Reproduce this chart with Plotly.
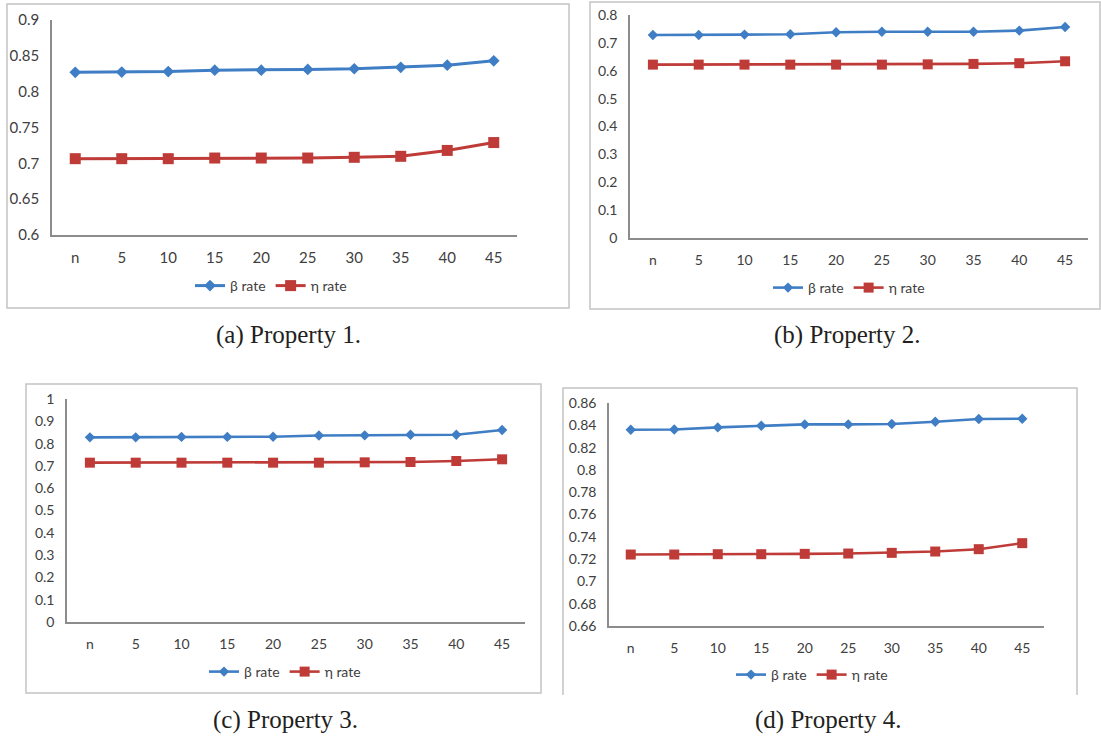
import plotly.graph_objects as go

W, H = 1101, 740

categories = ["n", "5", "10", "15", "20", "25", "30", "35", "40", "45"]

beta_p1 = [0.827, 0.8274, 0.828, 0.830, 0.830, 0.831, 0.832, 0.834, 0.837, 0.843]
eta_p1 = [0.7065, 0.7065, 0.7065, 0.7074, 0.7074, 0.7074, 0.7084, 0.7098, 0.718, 0.729]

beta_p2 = [0.728, 0.728, 0.7296, 0.731, 0.738, 0.740, 0.740, 0.740, 0.744, 0.757]
eta_p2 = [0.622, 0.622, 0.622, 0.622, 0.622, 0.622, 0.623, 0.6245, 0.627, 0.634]

beta_p3 = [0.828, 0.828, 0.830, 0.830, 0.831, 0.836, 0.837, 0.840, 0.840, 0.861]
eta_p3 = [0.7145, 0.7145, 0.7145, 0.7145, 0.7145, 0.7145, 0.716, 0.7175, 0.722, 0.7295]

beta_p4 = [0.836, 0.8363, 0.8381, 0.8396, 0.8408, 0.8408, 0.8411, 0.8432, 0.8456, 0.8459]
eta_p4 = [0.7241, 0.7241, 0.7244, 0.7244, 0.7247, 0.725, 0.7256, 0.7268, 0.7289, 0.7343]

captions = ["(a) Property 1.", "(b) Property 2.", "(c) Property 3.", "(d) Property 4."]
y_ranges = [[0.6, 0.9], [0, 0.8], [0, 1.0], [0.66, 0.86]]
y_dticks = [0.05, 0.1, 0.1, 0.02]

BLUE = "#3f7dc4"
RED = "#bf3b38"
AXIS = "#8c8c8c"
BORDER = "#c4c4c4"
TXT = "#404040"


def px(x):
    return x / W


def py(y):
    return 1 - y / H


# pixel layout: plot area (x0, x1, ytop, ybottom)
areas = [(52, 517, 20, 235), (630, 1088, 15, 238), (67, 525, 399, 622), (609, 1044, 403, 626)]
legend_pos = [(271, 286), (849, 288), (285, 672), (812, 675)]
caption_pos = [(288, 335), (847, 335), (285, 720), (828, 720)]
tick_sizes = [15, 14, 14, 14]
line_w = [3, 2.6, 2.6, 2.6]
diamond_sz = [9, 8, 8, 8]
square_sz = [11, 10, 10, 10]

series = [(beta_p1, eta_p1), (beta_p2, eta_p2), (beta_p3, eta_p3), (beta_p4, eta_p4)]

fig = go.Figure()
layout = dict(
    width=W, height=H,
    margin=dict(l=0, r=0, t=0, b=0, pad=0, autoexpand=False),
    paper_bgcolor="white", plot_bgcolor="white",
    font=dict(family="Lato, Carlito, sans-serif", color=TXT),
    shapes=[], annotations=[],
)

for i, ((b, e), (x0, x1, yt, yb)) in enumerate(zip(series, areas)):
    k = "" if i == 0 else str(i + 1)
    xa, ya = "x" + k, "y" + k
    lg = "legend" + k
    fig.add_trace(go.Scatter(
        x=categories, y=b, name="β rate", mode="lines+markers",
        line=dict(color=BLUE, width=line_w[i]),
        marker=dict(symbol="diamond", size=diamond_sz[i], color=BLUE),
        xaxis=xa, yaxis=ya, legend=lg))
    fig.add_trace(go.Scatter(
        x=categories, y=e, name="η rate", mode="lines+markers",
        line=dict(color=RED, width=line_w[i]),
        marker=dict(symbol="square", size=square_sz[i], color=RED),
        xaxis=xa, yaxis=ya, legend=lg))
    layout["xaxis" + k] = dict(
        domain=[px(x0), px(x1)], anchor=ya, type="category",
        range=[-0.5, 9.5], showgrid=False, zeroline=False, automargin=False,
        showline=True, linecolor=AXIS, linewidth=1.5, ticks="",
        tickfont=dict(size=tick_sizes[i], color=TXT), ticklabelstandoff=8,
        fixedrange=True)
    layout["yaxis" + k] = dict(
        domain=[py(yb), py(yt)], anchor=xa, range=y_ranges[i],
        dtick=y_dticks[i], tick0=0, showgrid=False, zeroline=False, automargin=False,
        showline=True, linecolor=AXIS, linewidth=1.5, ticks="",
        tickfont=dict(size=tick_sizes[i], color=TXT), ticklabelstandoff=8,
        fixedrange=True)
    lx, ly = legend_pos[i]
    layout[lg] = dict(
        orientation="h", x=px(lx), y=py(ly), xanchor="center", yanchor="middle",
        font=dict(size=14, color=TXT), bgcolor="rgba(0,0,0,0)",
        itemwidth=30, tracegroupgap=0)
    cx, cy = caption_pos[i]
    layout["annotations"].append(dict(
        text=captions[i], x=px(cx), y=py(cy), xref="paper", yref="paper",
        showarrow=False, xanchor="center", yanchor="middle",
        font=dict(family="Liberation Serif, Times New Roman, serif", size=25, color="#231f20")))

# panel borders (pixel boxes)
boxes = [(7, 569, 4, 308), (590, 1100, 2, 309), (26, 541, 384, 693)]
for (bx0, bx1, by0, by1) in boxes:
    layout["shapes"].append(dict(
        type="rect", xref="paper", yref="paper",
        x0=px(bx0), x1=px(bx1), y0=py(by1), y1=py(by0),
        line=dict(color=BORDER, width=1.5)))
# panel (d) border: open at bottom
layout["shapes"].append(dict(
    type="path", xref="paper", yref="paper",
    path=f"M {px(563)},{py(695)} L {px(563)},{py(388)} L {px(1077)},{py(388)} L {px(1077)},{py(695)}",
    line=dict(color=BORDER, width=1.5)))

fig.update_layout(**layout)
fig.write_html("out.html", config={"displayModeBar": False},
               post_script="document.body.style.margin='0px';document.body.style.padding='0px';")
